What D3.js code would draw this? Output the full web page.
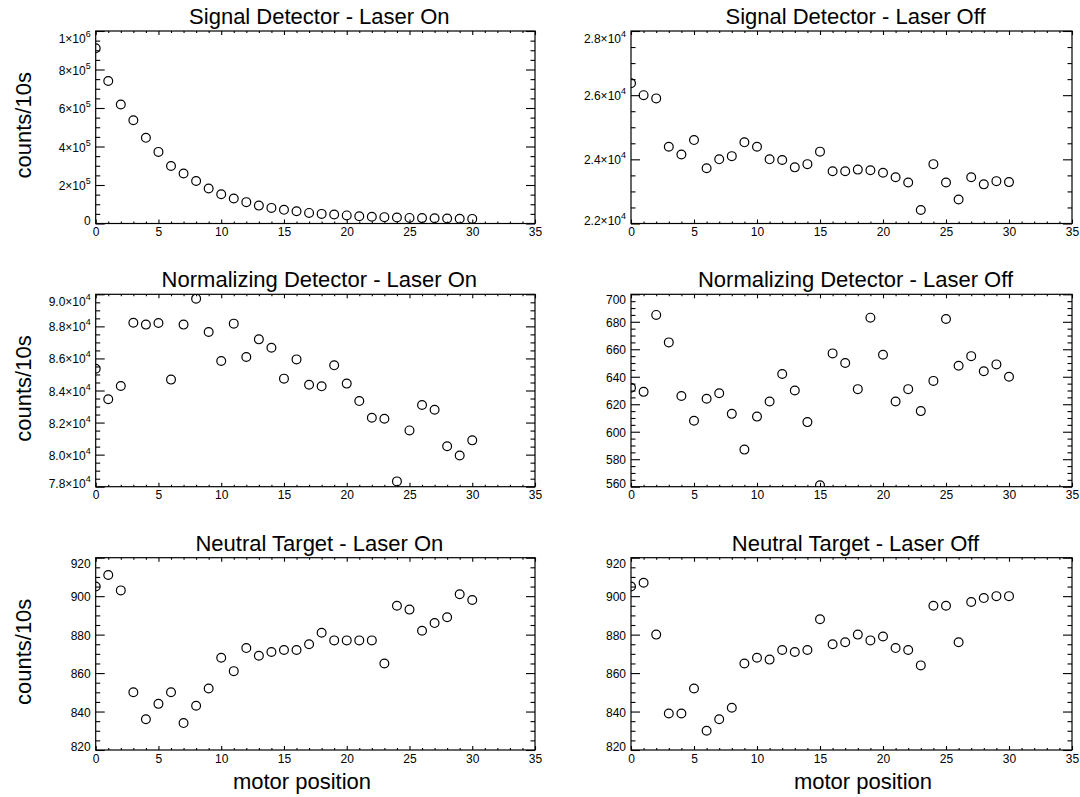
<!DOCTYPE html>
<html>
<head>
<meta charset="utf-8">
<script src="https://cdn.jsdelivr.net/npm/d3@7"></script>
<style>
  html, body { margin: 0; padding: 0; background: #fff; }
  svg { display: block; }
  text { font-family: "Liberation Sans", Arial, Helvetica, sans-serif; fill: #000; }
</style>
</head>
<body>
<svg id="chart" width="1080" height="797"></svg>
<script>
// Motor positions scanned (x for every panel)
const motorPosition = [0,1,2,3,4,5,6,7,8,9,10,11,12,13,14,15,16,17,18,19,20,21,22,23,24,25,26,27,28,29,30];

// Counts per 10 s for each detector / laser state
const signalLaserOn = [910000,740000,618000,536000,445000,372000,299000,260000,221000,182000,152000,130000,111000,93000,81000,71000,64000,55000,50000,47000,42000,38000,35000,33000,31000,29000,28000,27000,26000,25000,24000];
const signalLaserOff = [26370,26000,25900,24390,24150,24600,23720,24000,24100,24530,24390,24000,23980,23750,23850,24240,23630,23630,23680,23660,23580,23440,23280,22420,23850,23280,22750,23440,23220,23320,23290];
const normLaserOn = [85360,83450,84280,88230,88110,88210,84680,88110,89730,87650,85840,88170,86090,87190,86670,84740,85940,84360,84260,85570,84430,83340,82300,82240,78330,81510,83100,82800,80520,79950,80890];
const normLaserOff = [632,629,685,665,626,608,624,628,613,587,611,622,642,630,607,561,657,650,631,683,656,622,631,615,637,682,648,655,644,649,640];
const neutralLaserOn = [905,911,903,850,836,844,850,834,843,852,868,861,873,869,871,872,872,875,881,877,877,877,877,865,895,893,882,886,889,901,898];
const neutralLaserOff = [905,907,880,839,839,852,830,836,842,865,868,867,872,871,872,888,875,876,880,877,879,873,872,864,895,895,876,897,899,900,900];

// Axis ticks
const xMajorTicks = [0,5,10,15,20,25,30,35];
const xMinorTicks = [1,2,3,4,6,7,8,9,11,12,13,14,16,17,18,19,21,22,23,24,26,27,28,29,31,32,33,34];
const xTickLabels = ["0","5","10","15","20","25","30","35"];

const yTicksSignalOn = [0,200000,400000,600000,800000,1000000];
const yLabelsSignalOn = ["0","2×10^5","4×10^5","6×10^5","8×10^5","1×10^6"];
const yTicksSignalOff = [22000,24000,26000,28000];
const yLabelsSignalOff = ["2.2×10^4","2.4×10^4","2.6×10^4","2.8×10^4"];
const yTicksNormOn = [78000,80000,82000,84000,86000,88000,90000];
const yLabelsNormOn = ["7.8×10^4","8.0×10^4","8.2×10^4","8.4×10^4","8.6×10^4","8.8×10^4","9.0×10^4"];
const yTicksNormOff = [560,580,600,620,640,660,680,700];
const yLabelsNormOff = ["560","580","600","620","640","660","680","700"];
const yTicksNeutral = [820,840,860,880,900,920];
const yLabelsNeutral = ["820","840","860","880","900","920"];

const titles = [
  "Signal Detector - Laser On", "Signal Detector - Laser Off",
  "Normalizing Detector - Laser On", "Normalizing Detector - Laser Off",
  "Neutral Target - Laser On", "Neutral Target - Laser Off"
];

// Grid geometry
const cols = [[95.7, 535], [631, 1072]];
const rows = [[31, 223.5], [294.3, 486.7], [557.7, 750]];

const panels = [
  {title: titles[0], values: signalLaserOn,  yDomain: [0, 1000000], yTicks: yTicksSignalOn,  yLabels: yLabelsSignalOn,  yMinorStep: 50000, col: 0, row: 0},
  {title: titles[1], values: signalLaserOff, yDomain: [22000, 28000], yTicks: yTicksSignalOff, yLabels: yLabelsSignalOff, yMinorStep: 500, col: 1, row: 0},
  {title: titles[2], values: normLaserOn,    yDomain: [78000, 90000], yTicks: yTicksNormOn,    yLabels: yLabelsNormOn,    yMinorStep: 500, col: 0, row: 1},
  {title: titles[3], values: normLaserOff,   yDomain: [560, 700],     yTicks: yTicksNormOff,   yLabels: yLabelsNormOff,   yMinorStep: 5, col: 1, row: 1},
  {title: titles[4], values: neutralLaserOn, yDomain: [820, 920],     yTicks: yTicksNeutral,   yLabels: yLabelsNeutral,   yMinorStep: 5, col: 0, row: 2},
  {title: titles[5], values: neutralLaserOff,yDomain: [820, 920],     yTicks: yTicksNeutral,   yLabels: yLabelsNeutral,   yMinorStep: 5, col: 1, row: 2}
];

const xLabelCenters = [302, 863];

const svg = d3.select("#chart");
svg.append("rect").attr("width", 1080).attr("height", 797).attr("fill", "#fff");

function writeLabel(textSel, label) {
  textSel.text(null);
  const parts = label.split("^");
  textSel.append("tspan").text(parts[0]);
  if (parts.length > 1) {
    textSel.append("tspan").attr("dy", -6).attr("font-size", 9).text(parts[1]);
  }
}

panels.forEach((p, i) => {
  const [x0, x1] = cols[p.col];
  const [y0, y1] = rows[p.row];
  const w = x1 - x0, h = y1 - y0;

  const x = d3.scaleLinear().domain([0, 35]).range([0, w]);
  const y = d3.scaleLinear().domain(p.yDomain).range([h, 0]);

  const yMinor = d3.range(p.yDomain[0], p.yDomain[1] + 1e-9, p.yMinorStep)
    .filter(v => !p.yTicks.some(t => Math.abs(t - v) < 1e-6));

  const g = svg.append("g").attr("transform", `translate(${x0},${y0})`);

  // data points, clipped to the plot frame
  const clipId = "clip" + i;
  g.append("clipPath").attr("id", clipId)
    .append("rect").attr("width", w).attr("height", h);

  g.append("g").attr("clip-path", `url(#${clipId})`)
    .selectAll("circle")
    .data(motorPosition.map((m, k) => [m, p.values[k]]))
    .join("circle")
    .attr("cx", d => x(d[0]))
    .attr("cy", d => y(d[1]))
    .attr("r", 4.4)
    .attr("fill", "none")
    .attr("stroke", "#000")
    .attr("stroke-width", 1.2);

  const majorX = 4, minorX = 2, majorY = 9, minorY = 4.5;

  function styleAxis(sel) {
    sel.select(".domain").remove();
    sel.selectAll(".tick line").attr("stroke", "#000").attr("stroke-width", 1.1);
  }

  // bottom axis with labels
  const bottom = g.append("g").attr("transform", `translate(0,${h})`)
    .call(d3.axisBottom(x).tickValues(xMajorTicks).tickSize(-majorX).tickPadding(4)
      .tickFormat((d, k) => xTickLabels[k]));
  styleAxis(bottom);
  bottom.selectAll(".tick text").attr("font-size", 12).attr("fill", "#111")
    .attr("font-family", "Liberation Sans, Arial, sans-serif");
  g.append("g").attr("transform", `translate(0,${h})`)
    .call(d3.axisBottom(x).tickValues(xMinorTicks).tickSize(-minorX).tickFormat(""))
    .call(styleAxis);

  // top axis
  g.append("g").call(d3.axisTop(x).tickValues(xMajorTicks).tickSize(-majorX).tickFormat("")).call(styleAxis);
  g.append("g").call(d3.axisTop(x).tickValues(xMinorTicks).tickSize(-minorX).tickFormat("")).call(styleAxis);

  // left axis with labels
  const left = g.append("g")
    .call(d3.axisLeft(y).tickValues(p.yTicks).tickSize(-majorY).tickPadding(5).tickFormat(""));
  styleAxis(left);
  left.selectAll(".tick text").each(function(d, k) {
    const t = d3.select(this)
      .attr("font-size", 12).attr("fill", "#111")
      .attr("font-family", "Liberation Sans, Arial, sans-serif")
      .attr("dy", null)
      .attr("dominant-baseline", null);
    const label = p.yLabels[k];
    const sup = label.includes("^");
    // keep the first and last label inside the axis span
    let shift = 0;
    if (k === p.yTicks.length - 1) shift = sup ? 7 : 5;
    if (k === 0) shift = -4;
    t.attr("y", 4.5 + shift);
    writeLabel(t, label);
  });
  g.append("g").call(d3.axisLeft(y).tickValues(yMinor).tickSize(-minorY).tickFormat("")).call(styleAxis);

  // right axis
  g.append("g").attr("transform", `translate(${w},0)`)
    .call(d3.axisRight(y).tickValues(p.yTicks).tickSize(-majorY).tickFormat("")).call(styleAxis);
  g.append("g").attr("transform", `translate(${w},0)`)
    .call(d3.axisRight(y).tickValues(yMinor).tickSize(-minorY).tickFormat("")).call(styleAxis);

  // frame
  g.append("rect").attr("width", w).attr("height", h)
    .attr("fill", "none").attr("stroke", "#000").attr("stroke-width", 1.2);

  // title
  g.append("text").attr("x", w / 2 + 4).attr("y", -7)
    .attr("text-anchor", "middle").attr("font-size", 22)
    .text(p.title);

  // y title on the left column
  if (p.col === 0) {
    svg.append("text")
      .attr("transform", `translate(31,${y0 + h / 2 - 2}) rotate(-90)`)
      .attr("text-anchor", "middle").attr("font-size", 22)
      .text("counts/10s");
  }
  // x title on the bottom row
  if (p.row === 2) {
    svg.append("text")
      .attr("x", xLabelCenters[p.col]).attr("y", 789)
      .attr("text-anchor", "middle").attr("font-size", 22)
      .text("motor position");
  }
});
</script>
</body>
</html>
